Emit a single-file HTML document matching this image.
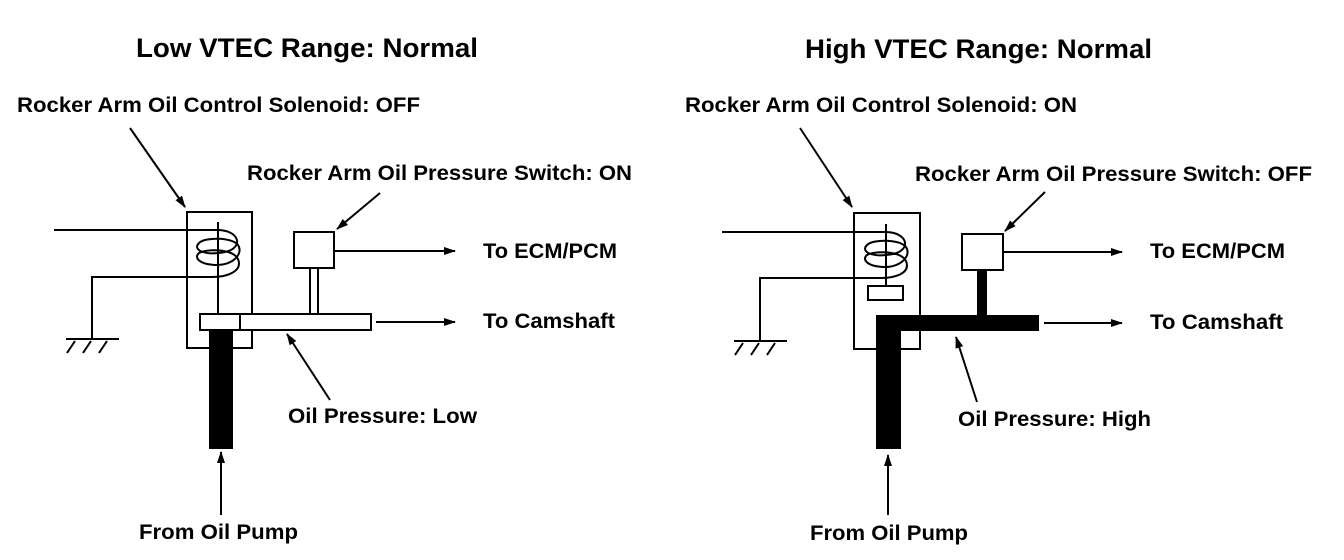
<!DOCTYPE html>
<html><head><meta charset="utf-8"><style>
html,body{margin:0;padding:0;background:#fff;}
svg{display:block}
text{font-family:"Liberation Sans",Arial,sans-serif;font-weight:bold;fill:#000}
</style></head><body>
<svg width="1344" height="560" viewBox="0 0 1344 560" xmlns="http://www.w3.org/2000/svg">
<defs>
<marker id="a" markerWidth="12" markerHeight="8" refX="11" refY="4" orient="auto" markerUnits="userSpaceOnUse">
<path d="M0,0 L12,4 L0,8 Z" fill="#000"/></marker>
</defs>
<g stroke="#000" fill="none" stroke-width="2">
<!-- LEFT -->
<rect x="187" y="212" width="65" height="136"/>
<line x1="54" y1="230" x2="217" y2="230"/>
<line x1="218" y1="222" x2="218" y2="314"/>
<path d="M217,230 C240,230 244,248 225,252 C205,256 192,250 199,243 C205,237 232,237 238,245 C244,254 232,266 215,265 C198,264 194,257 199,253 C205,249 232,248 238,259 C243,271 228,277 212,277"/>
<path d="M212,277 L92,277 L92,339"/>
<line x1="66" y1="339" x2="119" y2="339"/>
<line x1="75" y1="341" x2="67" y2="353"/>
<line x1="91" y1="341" x2="83" y2="353"/>
<line x1="107" y1="341" x2="99" y2="353"/>
<rect x="200" y="314" width="40" height="16" fill="#fff"/>
<rect x="240" y="314" width="131" height="16" fill="#fff"/>
<rect x="209" y="331" width="24" height="118" fill="#000" stroke="none"/>
<rect x="294" y="232" width="40" height="36" fill="#fff"/>
<line x1="310" y1="268" x2="310" y2="314"/>
<line x1="318" y1="268" x2="318" y2="314"/>
<line x1="334" y1="251" x2="455" y2="251" marker-end="url(#a)"/>
<line x1="376" y1="322" x2="455" y2="322" marker-end="url(#a)"/>
<line x1="130" y1="128" x2="185" y2="207" marker-end="url(#a)"/>
<line x1="380" y1="193" x2="337" y2="229" marker-end="url(#a)"/>
<line x1="330" y1="400" x2="287" y2="334" marker-end="url(#a)"/>
<line x1="221" y1="515" x2="221" y2="452" marker-end="url(#a)"/>
<!-- RIGHT -->
<rect x="854" y="213" width="66" height="136"/>
<line x1="722" y1="232" x2="886" y2="232"/>
<line x1="886" y1="224" x2="886" y2="286"/>
<path d="M885,232 C908,232 912,250 893,254 C873,258 860,252 867,245 C873,239 900,239 906,247 C912,256 900,268 883,267 C866,266 862,259 867,255 C873,251 900,250 906,261 C911,273 896,278 880,278"/>
<rect x="868" y="286" width="35" height="14" fill="#fff"/>
<path d="M880,278 L760,278 L760,341"/>
<line x1="734" y1="341" x2="787" y2="341"/>
<line x1="743" y1="343" x2="735" y2="355"/>
<line x1="759" y1="343" x2="751" y2="355"/>
<line x1="775" y1="343" x2="767" y2="355"/>
<rect x="876" y="315" width="163" height="16" fill="#000" stroke="none"/>
<rect x="876" y="315" width="25" height="134" fill="#000" stroke="none"/>
<rect x="977" y="270" width="10" height="46" fill="#000" stroke="none"/>
<rect x="962" y="234" width="41" height="36" fill="#fff"/>
<line x1="1003" y1="252" x2="1122" y2="252" marker-end="url(#a)"/>
<line x1="1044" y1="323" x2="1122" y2="323" marker-end="url(#a)"/>
<line x1="800" y1="128" x2="852" y2="207" marker-end="url(#a)"/>
<line x1="1045" y1="192" x2="1005" y2="231" marker-end="url(#a)"/>
<line x1="977" y1="402" x2="956" y2="337" marker-end="url(#a)"/>
<line x1="888" y1="515" x2="888" y2="455" marker-end="url(#a)"/>
</g>
<g>
<text x="136" y="57" font-size="27" textLength="342" lengthAdjust="spacingAndGlyphs">Low VTEC Range: Normal</text>
<text x="17" y="112" font-size="21" textLength="403" lengthAdjust="spacingAndGlyphs">Rocker Arm Oil Control Solenoid: OFF</text>
<text x="247" y="180" font-size="21" textLength="385" lengthAdjust="spacingAndGlyphs">Rocker Arm Oil Pressure Switch: ON</text>
<text x="483" y="258" font-size="21" textLength="134" lengthAdjust="spacingAndGlyphs">To ECM/PCM</text>
<text x="483" y="328" font-size="21" textLength="132" lengthAdjust="spacingAndGlyphs">To Camshaft</text>
<text x="288" y="423" font-size="21" textLength="189" lengthAdjust="spacingAndGlyphs">Oil Pressure: Low</text>
<text x="139" y="539" font-size="21" textLength="159" lengthAdjust="spacingAndGlyphs">From Oil Pump</text>
<text x="805" y="58" font-size="27" textLength="347" lengthAdjust="spacingAndGlyphs">High VTEC Range: Normal</text>
<text x="685" y="112" font-size="21" textLength="392" lengthAdjust="spacingAndGlyphs">Rocker Arm Oil Control Solenoid: ON</text>
<text x="915" y="181" font-size="21" textLength="397" lengthAdjust="spacingAndGlyphs">Rocker Arm Oil Pressure Switch: OFF</text>
<text x="1150" y="258" font-size="21" textLength="135" lengthAdjust="spacingAndGlyphs">To ECM/PCM</text>
<text x="1150" y="329" font-size="21" textLength="133" lengthAdjust="spacingAndGlyphs">To Camshaft</text>
<text x="958" y="426" font-size="21" textLength="193" lengthAdjust="spacingAndGlyphs">Oil Pressure: High</text>
<text x="810" y="540" font-size="21" textLength="158" lengthAdjust="spacingAndGlyphs">From Oil Pump</text>
</g>
</svg>
</body></html>
